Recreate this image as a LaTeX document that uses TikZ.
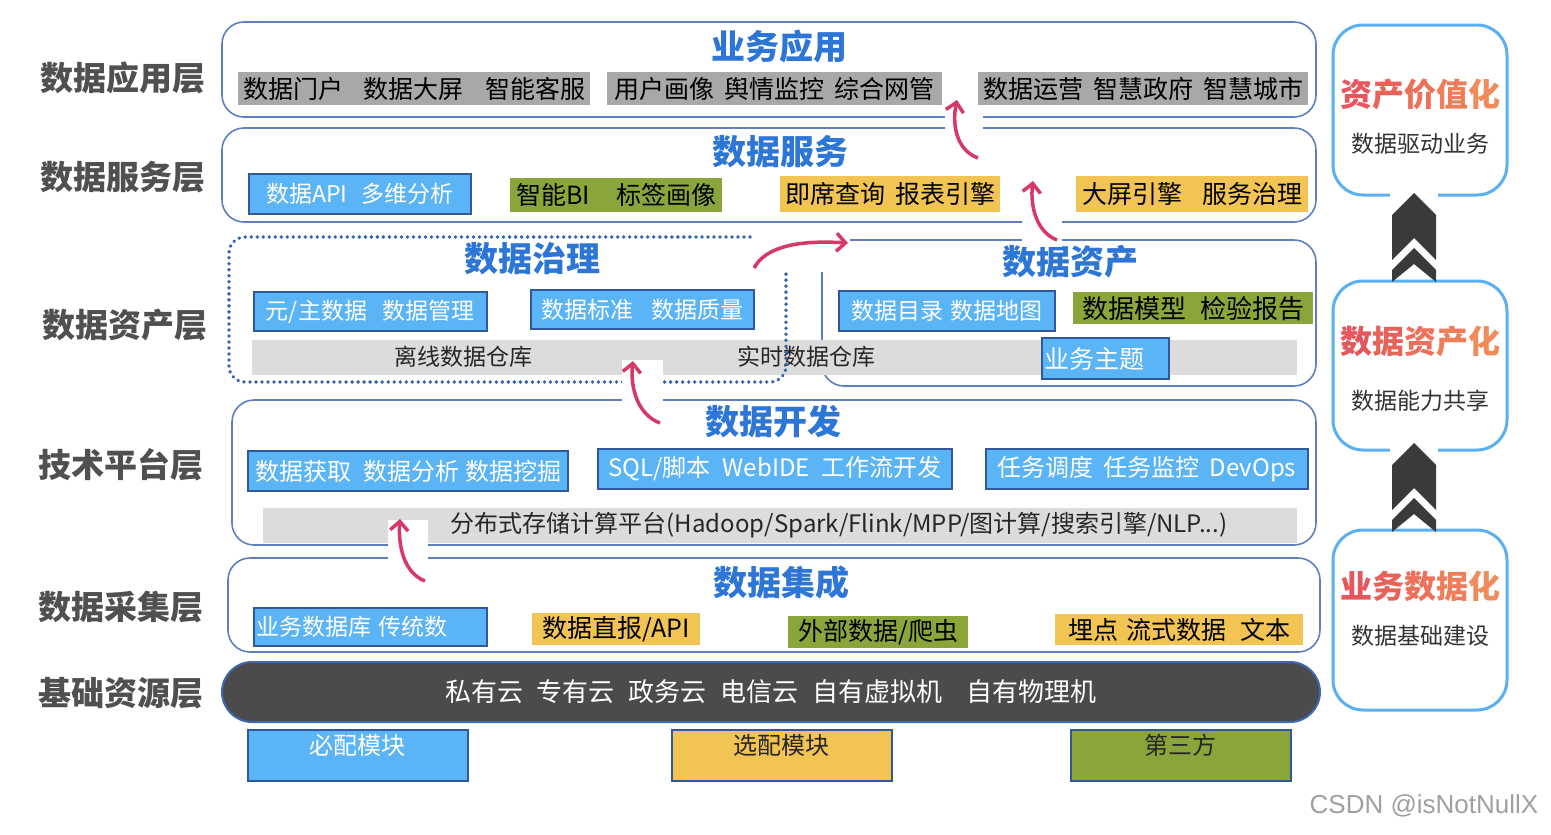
\documentclass[tikz,border=0pt]{standalone}
\usepackage{fontspec}
\setmainfont{Noto Sans CJK SC}
\newfontfamily\wmfont{Liberation Sans}
\usetikzlibrary{arrows.meta}
\definecolor{frameblue}{RGB}{95,128,190}
\definecolor{dotblue}{RGB}{55,98,175}
\definecolor{boxblue}{RGB}{91,180,246}
\definecolor{boxedge}{RGB}{48,88,155}
\definecolor{boxgreen}{RGB}{138,166,58}
\definecolor{boxorange}{RGB}{242,196,84}
\definecolor{itemgray}{RGB}{168,168,168}
\definecolor{bargray}{RGB}{220,220,220}
\definecolor{basedark}{RGB}{75,75,75}
\definecolor{baseedge}{RGB}{60,105,175}
\definecolor{titleblue}{RGB}{45,118,214}
\definecolor{lblgray}{RGB}{80,80,80}
\definecolor{arrowred}{RGB}{214,56,104}
\definecolor{sideblue}{RGB}{90,176,240}
\definecolor{chev}{RGB}{58,58,58}
\definecolor{rt1}{RGB}{230,86,92}
\definecolor{rt2}{RGB}{233,98,90}
\definecolor{rt3}{RGB}{236,112,90}
\definecolor{rt4}{RGB}{238,126,90}
\definecolor{rt5}{RGB}{240,140,92}
\definecolor{wmgray}{RGB}{160,160,160}
\newcommand\fs[1]{\fontsize{#1}{#1}\selectfont}
\newcommand\hs[1]{\hspace{#1pt}}
\newcommand\redtitle[5]{\textcolor{rt1}{#1}\textcolor{rt2}{#2}\textcolor{rt3}{#3}\textcolor{rt4}{#4}\textcolor{rt5}{#5}}
\begin{document}
\begin{tikzpicture}[x=1pt,y=-1pt,
  layerlbl/.style={font=\fs{33}\bfseries, text=lblgray, inner sep=0pt},
  ttl/.style={font=\fs{34}\bfseries, text=titleblue, inner sep=0pt},
  bluebox/.style={anchor=north west, fill=boxblue, draw=boxedge, line width=2pt, text=white, font=\fs{23}, inner sep=0pt},
  greenbox/.style={anchor=north west, fill=boxgreen, text=black, font=\fs{25}, inner sep=0pt},
  orangebox/.style={anchor=north west, fill=boxorange, text=black, font=\fs{25}, inner sep=0pt},
  graybox/.style={anchor=north west, fill=itemgray, text=black, font=\fs{25}, inner sep=0pt},
  barbox/.style={anchor=north west, fill=bargray, inner sep=0pt},
  bartext/.style={font=\fs{23}, text=black!85, inner sep=0pt},
  frame/.style={draw=frameblue, line width=1.6pt, rounded corners=22pt},
  dotframe/.style={draw=dotblue, line width=3.8pt, dash pattern=on 0.01pt off 6pt, line cap=round, rounded corners=16pt},
  redarrow/.style={draw=arrowred, line width=3.5pt, -{Straight Barb[length=9pt,width=18pt]}},
  sidebox/.style={draw=sideblue, line width=3pt, rounded corners=30pt},
  sidettl/.style={font=\fs{32}\bfseries, inner sep=0pt},
  sidesub/.style={font=\fs{23}, text=black!80, inner sep=0pt},
  chevron/.style={fill=chev},
  legendbox/.style={anchor=north west, draw=boxedge, line width=2pt, minimum width=220pt, minimum height=51pt, inner sep=0pt},
  gapfill/.style={fill=white}
]
\fill[white] (0,0) rectangle (1551,835);
\useasboundingbox (0,0) rectangle (1551,835);

% left layer labels
\node[layerlbl] (L1) at (123,78) {数据应用层};
\node[layerlbl] (L2) at (123,177) {数据服务层};
\node[layerlbl] (L3) at (125,325) {数据资产层};
\node[layerlbl] (L4) at (121,465) {技术平台层};
\node[layerlbl] (L5) at (121,607) {数据采集层};
\node[layerlbl] (L6) at (121,693) {基础资源层};

% frames
\draw[frame] (222,22) rectangle (1316,117);
\draw[frame] (222,128) rectangle (1316,222);
\draw[frame] (850,240) -- (1316,240) -- (1316,386) -- (822,386) -- (822,272);
\draw[frame] (232,400) rectangle (1316,545);
\draw[frame] (228,558) rectangle (1320,652);

% layer 1
\node[ttl] (t1) at (779,47) {业务应用};
\node[graybox, minimum width=352pt, minimum height=33pt] (a1) at (238,72) {数据门户\hs{20}数据大屏\hs{22}智能客服};
\node[graybox, minimum width=335pt, minimum height=33pt] (a2) at (607,72) {用户画像\hs{10}舆情监控\hs{10}综合网管};
\node[graybox, minimum width=330pt, minimum height=33pt] (a3) at (978,72) {数据运营\hs{10}智慧政府\hs{10}智慧城市};

% layer 2
\node[ttl] (t2) at (780,152) {数据服务};
\node[bluebox, minimum width=222pt, minimum height=40pt] (s1) at (248,173) {数据API\hs{14}多维分析};
\node[greenbox, minimum width=212pt, minimum height=34pt] (s2) at (510,178) {智能BI\hs{26}标签画像};
\node[orangebox, minimum width=220pt, minimum height=36pt] (s3) at (780,176) {即席查询\hs{10}报表引擎};
\node[orangebox, minimum width=232pt, minimum height=36pt] (s4) at (1076,176) {大屏引擎\hs{20}服务治理};

% layer 3
\node[barbox, minimum width=1045pt, minimum height=35pt] (bar1) at (252,340) {};
\node[bartext] (w1) at (463,357) {离线数据仓库};
\node[bartext] (w2) at (806,357) {实时数据仓库};
\draw[dotframe] (750,237) -- (229,237) -- (229,382) -- (786,382) -- (786,272);
\node[ttl] (t3a) at (532,259) {数据治理};
\node[ttl] (t3b) at (1070,262) {数据资产};
\node[bluebox, minimum width=233pt, minimum height=39pt] (g1) at (253,291) {元/主数据\hs{16}数据管理};
\node[bluebox, minimum width=223pt, minimum height=39pt] (g2) at (530,289) {数据标准\hs{18}数据质量};
\node[bluebox, minimum width=216pt, minimum height=40pt] (d1) at (838,290) {数据目录\hs{8}数据地图};
\node[greenbox, font=\fs{26}, minimum width=240pt, minimum height=32pt] (d2) at (1073,292) {数据模型\hs{14}检验报告};
\node[bluebox, font=\fs{25}, text width=123pt, align=left, inner xsep=2pt, minimum height=41pt] (d3) at (1041,337) {业务主题};

% layer 4
\node[ttl] (t4) at (773,422) {数据开发};
\node[bluebox, font=\fs{24}, minimum width=320pt, minimum height=40pt] (p1) at (247,450) {数据获取\hs{12}数据分析\hs{6}数据挖掘};
\node[bluebox, font=\fs{24}, minimum width=354pt, minimum height=40pt] (p2) at (597,448) {SQL/脚本\hs{12}WebIDE\hs{12}工作流开发};
\node[bluebox, font=\fs{24}, minimum width=322pt, minimum height=40pt] (p3) at (985,448) {任务调度\hs{10}任务监控\hs{10}DevOps};
\node[barbox, minimum width=1034pt, minimum height=35pt] (bar2) at (263,508) {};
\node[bartext, font=\fs{24}] (w3) at (839,525) {分布式存储计算平台(Hadoop/Spark/Flink/MPP/图计算/搜索引擎/NLP...)};

% layer 5
\node[ttl] (t5) at (781,583) {数据集成};
\node[bluebox, text width=229pt, align=left, inner xsep=2pt, minimum height=38pt] (c1) at (253,607) {业务数据库 传统数};
\node[orangebox, minimum width=168pt, minimum height=32pt] (c2) at (532,613) {数据直报/API};
\node[greenbox, minimum width=180pt, minimum height=32pt] (c3) at (788,616) {外部数据/爬虫};
\node[orangebox, minimum width=248pt, minimum height=31pt] (c4) at (1055,614) {埋点\hs{8}流式数据\hs{14}文本};

% base layer
\draw[fill=basedark, draw=baseedge, line width=2pt, rounded corners=30pt] (222,662) rectangle (1320,722);
\node[font=\fs{26}, text=white, inner sep=0pt] (base) at (771,692) {私有云\hs{14}专有云\hs{14}政务云\hs{14}电信云\hs{14}自有虚拟机\hs{24}自有物理机};

% legend
\node[legendbox, fill=boxblue] (lg1) at (247,729) {};
\node[font=\fs{24}, text=white, inner sep=0pt] (lt1) at (357,745) {必配模块};
\node[legendbox, fill=boxorange] (lg2) at (671,729) {};
\node[font=\fs{24}, text=black!85, inner sep=0pt] (lt2) at (781,745) {选配模块};
\node[legendbox, fill=boxgreen] (lg3) at (1070,729) {};
\node[font=\fs{24}, text=black!85, inner sep=0pt] (lt3) at (1180,745) {第三方};

% gaps for arrows
\fill[gapfill] (945,110) rectangle (983,135);
\fill[gapfill] (1022,215) rectangle (1062,247);
\fill[gapfill] (622,360) rectangle (663,406);
\fill[gapfill] (388,520) rectangle (428,564);

% red arrows
\coordinate (aS) at (978,158);
\coordinate (aT) at (957,100);
\coordinate (bS) at (1057,240);
\coordinate (bT) at (1033,181);
\coordinate (cS) at (660,423);
\coordinate (cT) at (633,361);
\coordinate (dS) at (425,581);
\coordinate (dT) at (400,519);
\coordinate (eS) at (754,268);
\coordinate (eT) at (848,243);
\draw[redarrow] (aS) .. controls (956,150) and (952,124) .. (aT);
\draw[redarrow] (bS) .. controls (1036,232) and (1030,205) .. (bT);
\draw[redarrow] (cS) .. controls (638,415) and (630,388) .. (cT);
\draw[redarrow] (dS) .. controls (404,573) and (398,546) .. (dT);
\draw[redarrow] (eS) .. controls (766,246) and (800,240) .. (eT);

% right column
\draw[sidebox] (1333,25) rectangle (1507,195);
\draw[sidebox] (1333,281) rectangle (1507,450);
\draw[sidebox] (1333,530) rectangle (1507,710);
\fill[gapfill] (1390,186) rectangle (1438,202);
\fill[gapfill] (1390,436) rectangle (1438,452);
\node[sidettl] (r1) at (1420,94) {\redtitle{资}{产}{价}{值}{化}};
\node[sidesub] (r1s) at (1420,144) {数据驱动业务};
\node[sidettl] (r2) at (1420,341) {\redtitle{数}{据}{资}{产}{化}};
\node[sidesub] (r2s) at (1420,401) {数据能力共享};
\node[sidettl] (r3) at (1420,586) {\redtitle{业}{务}{数}{据}{化}};
\node[sidesub] (r3s) at (1420,636) {数据基础建设};
\foreach \y in {193,443} {
  \fill[chevron] (1414,\y) -- (1436,\y+22) -- (1436,\y+67) -- (1414,\y+45) -- (1392,\y+67) -- (1392,\y+22) -- cycle;
  \fill[chevron] (1414,\y+55) -- (1436,\y+77) -- (1436,\y+89) -- (1414,\y+71) -- (1392,\y+89) -- (1392,\y+77) -- cycle;
}

% watermark
\node[font=\wmfont\fs{26}, text=wmgray, inner sep=0pt] (wm) at (1424,806) {CSDN @isNotNullX};
\end{tikzpicture}
\end{document}
